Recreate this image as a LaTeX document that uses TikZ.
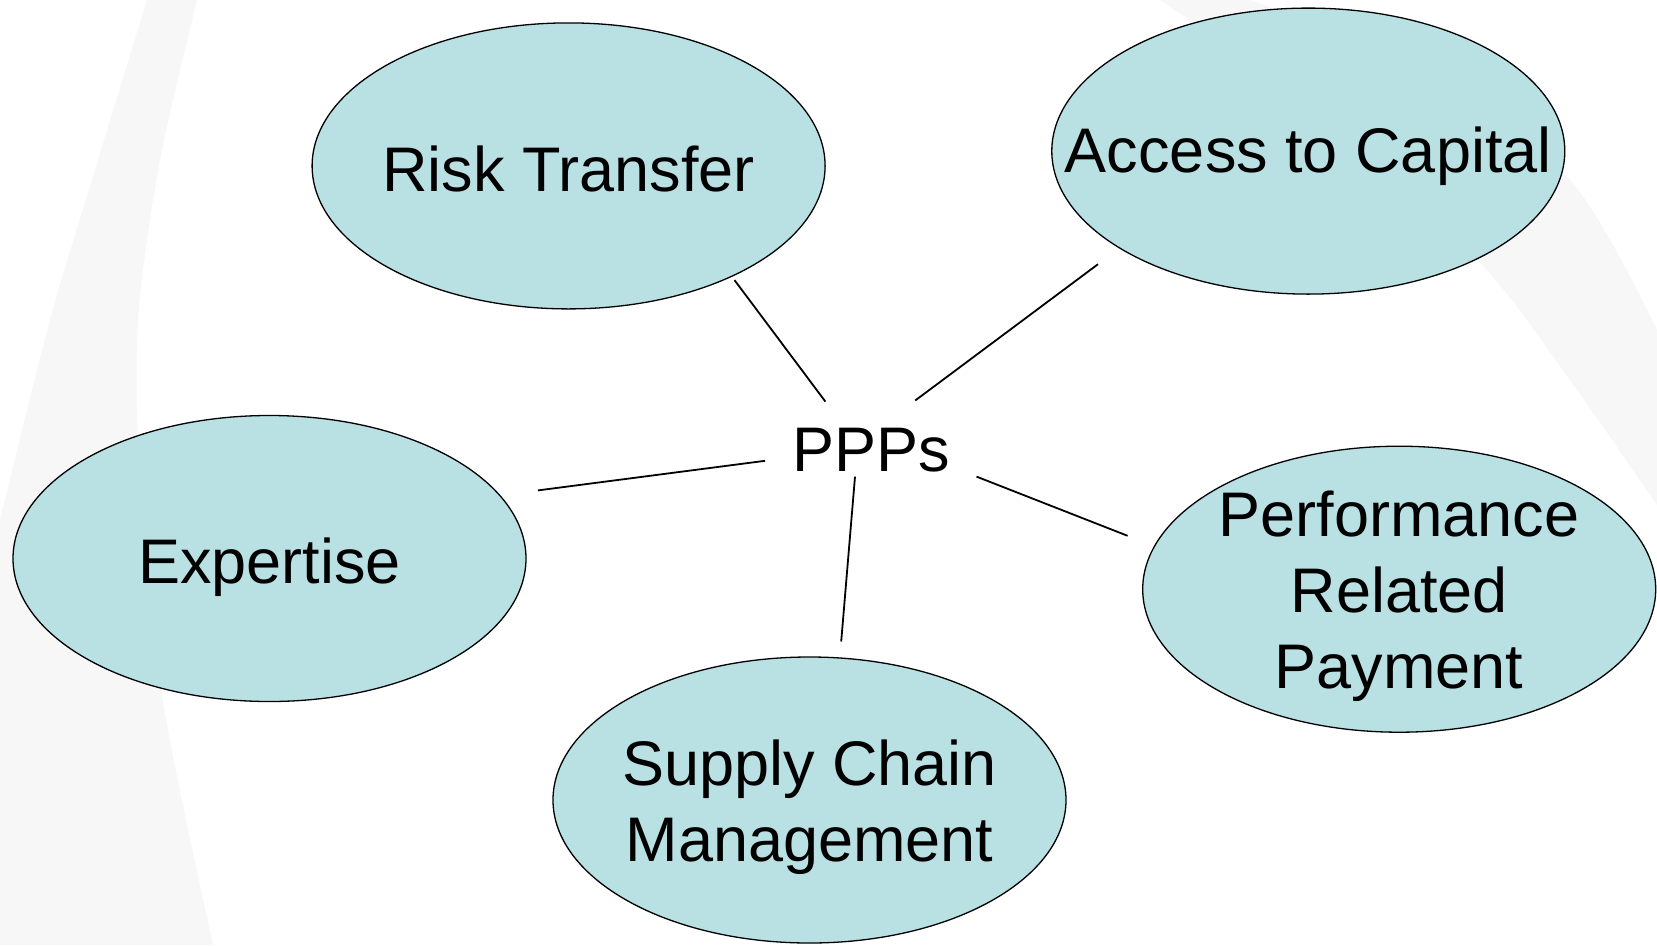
\documentclass[tikz,border=0pt]{standalone}
\usepackage{fontspec}
\setmainfont{Liberation Sans}
\usetikzlibrary{shapes.geometric}
\definecolor{bubblefill}{RGB}{185,224,227}
\definecolor{bgband}{RGB}{247,247,247}
\begin{document}
\begin{tikzpicture}[x=1pt,y=-1pt,
  bubble/.style={ellipse, draw=black, line width=1.3pt, fill=bubblefill,
    minimum width=513pt, minimum height=286pt, inner sep=0pt},
  lbl/.style={font=\fontsize{63}{76}\selectfont, align=center, inner sep=0pt},
  link/.style={line width=1.8pt}]
\useasboundingbox (0,0) rectangle (1657,945);
\fill[white] (0,0) rectangle (1657,945);
% faint background bands
\fill[bgband] plot[smooth] coordinates {(147,0) (95,170) (50,320) (0,520)}
  -- (0,945)
  -- plot[smooth] coordinates {(213,945) (163,702) (140,480) (138,320) (160,160) (197,0)}
  -- cycle;
\fill[bgband] plot[smooth] coordinates {(1160,0) (1330,120) (1484,267) (1570,380) (1657,505)}
  -- (1657,330)
  -- plot[smooth] coordinates {(1657,330) (1570,180) (1420,70) (1250,0)}
  -- cycle;
% ellipses
\node[bubble] (rt) at (568.6,165.9) {};
\node[bubble] (ac) at (1308.3,151.1) {};
\node[bubble] (ex) at (269.5,558.5) {};
\node[bubble] (prp) at (1399.2,589.2) {};
\node[bubble] (scm) at (809.5,800.0) {};
\node[lbl, yshift=-3.5pt] (rtT) at (rt.center) {Risk Transfer};
\node[lbl, yshift=-5.5pt] (acT) at (ac.center) {Access to Capital};
\node[lbl, yshift=-8.5pt] (exT) at (ex.center) {Expertise};
\node[lbl, yshift=-7.5pt] (prpT) at (prp.center) {Performance\\Related\\Payment};
\node[lbl, yshift=-7.5pt] (scmT) at (scm.center) {Supply Chain\\Management};
\node[lbl, yshift=-1pt] (ppp) at (870.8,449.1) {PPPs};
% connector ends
\coordinate (rtE) at (734.5,280.1);  \coordinate (rtP) at (825.4,401.6);
\coordinate (acE) at (1098.0,264.2); \coordinate (acP) at (915.2,400.5);
\coordinate (exE) at (537.9,490.4);  \coordinate (exP) at (765.1,460.8);
\coordinate (prpE) at (1127.6,535.8); \coordinate (prpP) at (976.5,476.6);
\coordinate (scmE) at (841.2,641.5); \coordinate (scmP) at (855.0,476.6);
\draw[link] (rtP) -- (rtE);
\draw[link] (acP) -- (acE);
\draw[link] (exP) -- (exE);
\draw[link] (prpP) -- (prpE);
\draw[link] (scmP) -- (scmE);
\end{tikzpicture}
\end{document}
